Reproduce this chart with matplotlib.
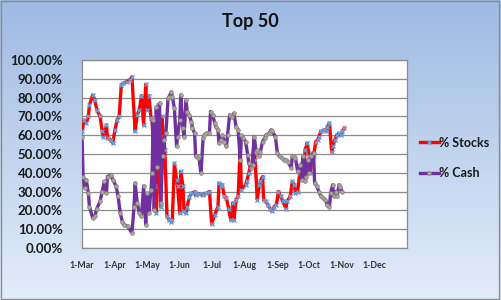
import numpy as np
import pandas as pd
import matplotlib
matplotlib.use("Agg")
import matplotlib.pyplot as plt
from matplotlib.lines import Line2D

YEAR = "2010"

stock_dates = ["03-01","03-03","03-05","03-07","03-08","03-11","03-13","03-15","03-18","03-20",
               "03-21","03-24","03-25","03-28","03-30","04-01","04-03","04-05","04-07","04-09",
               "04-12","04-15","04-17","04-20","04-22","04-24","04-26","04-28","04-30","05-01",
               "05-03","05-05","05-06","05-07","05-09","05-10","05-12","05-14","05-15","05-17",
               "05-18","05-20","05-22","05-24","05-25","05-27","05-29","05-30","06-01","06-02",
               "06-04","06-05","06-07","06-08","06-10","06-12","06-15","06-16","06-19","06-23",
               "06-26","06-29","07-01","07-04","07-07","07-08","07-10","07-11","07-13","07-15",
               "07-17","07-19","07-21","07-22","07-24","07-26","07-28","07-29","08-02","08-03",
               "08-05","08-07","08-08","08-10","08-11","08-13","08-15","08-16","08-18","08-19",
               "08-21","08-23","08-25","08-27","08-29","08-31","09-02","09-04","09-06","09-09",
               "09-10","09-13","09-15","09-17","09-18","09-20","09-22","09-24","09-26","09-27",
               "09-29","10-01","10-02","10-04","10-05","10-07","10-09","10-10","10-12","10-15",
               "10-17","10-18","10-20","10-22","10-23","10-25","10-27","10-29","10-31","11-01",
               "11-03"]
stock_pct = [62,68,66.5,70,76,81.4,78.7,73.4,70,62,
             59,65.4,58.5,57.5,56,62.8,68,70,86.7,87.6,
             88.5,89.4,91,62,71,73.5,81,65.5,87,73.5,
             81,69,67,56,33,18.6,76,22,70,59,
             52,17,15,14,15,45,36,33,18.6,40.7,
             33,19.5,18.6,22,27,29,30,28,28.7,28,
             29,30,13,17.7,22,34.5,33,33.6,27.4,26.5,
             21,15,24,15,25.7,27.4,54,31,33.6,35.4,
             39.8,45,44,57.5,47,25.7,33.6,35.4,38,25.7,
             24.8,23,21,19.5,22,23,30,27.4,24.8,21,
             24.8,27.4,35.4,33.6,29,30,39.8,45,40.7,52,
             55.8,48.7,39.8,50.4,48.7,56.6,57.5,59.3,62,62.8,
             62,64.6,66.4,51.3,54,57.5,60,61,60,62,
             63.7]

cash_dates = ["03-01","03-02","03-04","03-05","03-07","03-08","03-11","03-13","03-15","03-18",
              "03-20","03-22","03-24","03-25","03-28","03-30","04-02","04-04","04-06","04-08",
              "04-10","04-13","04-17","04-19","04-20","04-22","04-24","04-26","04-28","04-30",
              "05-01","05-03","05-05","05-06","05-07","05-08","05-10","05-11","05-13","05-14",
              "05-16","05-17","05-19","05-21","05-22","05-24","05-25","05-27","05-29","05-30",
              "06-01","06-02","06-04","06-05","06-07","06-08","06-10","06-12","06-13","06-15",
              "06-16","06-18","06-19","06-21","06-23","06-24","06-26","06-29","06-30","07-02",
              "07-04","07-05","07-07","07-08","07-10","07-11","07-13","07-15","07-16","07-18",
              "07-20","07-22","07-24","07-26","07-28","07-29","07-31","08-02","08-04","08-05",
              "08-07","08-09","08-10","08-12","08-13","08-15","08-16","08-18","08-20","08-21",
              "08-24","08-26","08-27","08-30","09-01","09-03","09-05","09-07","09-09","09-11",
              "09-14","09-15","09-17","09-18","09-20","09-22","09-24","09-25","09-27","09-28",
              "09-30","10-01","10-03","10-05","10-06","10-08","10-10","10-12","10-14","10-16",
              "10-18","10-20","10-21","10-23","10-24","10-26","10-27","10-29","10-30","11-01"]
cash_pct = [59.3,38,31.9,36.3,29,22,16,16.8,21,24.8,
            30,35.4,29,38,39,36.3,33,27.4,18.6,14,
            12.4,11.5,8,22,34.5,24,18.6,16.8,33,12.4,
            29,18.6,31,39.8,68,20,75,43,77,24,
            48.7,57.5,61,79.6,80.5,83,80.5,74.3,54,59.3,
            68,81.4,63.7,59.3,78.8,72.6,70.8,67,63.7,61,
            48.7,47.8,48.7,39.8,58.4,60,61,61,72.6,70.8,
            66.4,64.6,62.8,55.8,57.5,60,56.6,54,60,70.8,
            69.9,71.7,64.6,62.8,47,60,58.4,56.6,49.6,45,
            42.5,44,59.3,51.3,52,48.7,51.3,56.6,58.4,60,
            61,62.8,62,59.3,50.4,48.7,47.8,47,47,46,
            42.5,48.7,48.7,47.8,40.7,44,36.3,48.7,35.4,38,
            47,39.8,48.7,50.4,34.5,33,30,27.4,26.5,25.7,
            23,22,29,33.6,27.4,30,27.4,33.6,32.7,30]

tick_labels = ["1-Mar","1-Apr","1-May","1-Jun","1-Jul","1-Aug","1-Sep","1-Oct","1-Nov","1-Dec"]
y_ticks = list(range(0, 101, 10))

sd = pd.to_datetime([f"{YEAR}-{d}" for d in stock_dates])
cd = pd.to_datetime([f"{YEAR}-{d}" for d in cash_dates])

FONT = ["Lato", "DejaVu Sans"]

fig = plt.figure(figsize=(5.01, 3.0), dpi=100)
bg = fig.add_axes([0, 0, 1, 1], zorder=-10)
grad = np.linspace(0, 1, 256).reshape(-1, 1)
top = np.array([0.62, 0.73, 0.89])
bot = np.array([0.89, 0.93, 0.98])
img = top[None, None, :] * (1 - grad[:, :, None]) + bot[None, None, :] * grad[:, :, None]
bg.imshow(img, aspect="auto", extent=[0, 1, 0, 1], origin="upper")
bg.add_patch(plt.Rectangle((0.002, 0.003), 0.995, 0.994, fill=False, ec="#8c8c8c", lw=1))
bg.set_xlim(0, 1); bg.set_ylim(0, 1)
bg.axis("off")

ax = fig.add_axes([0.1637, 0.1733, 0.6487, 0.6267])
ax.set_facecolor("white")

stock_style = dict(color="#ff0000", lw=2.4, marker="x", ms=2.4, mec="#6a9ad6", mew=1.0)
cash_style = dict(color="#7030a0", lw=2.4, marker="o", ms=2.7, mfc="#aaa69c",
                  mec="#8a857c", mew=0.5)
ax.plot(sd, stock_pct, label="% Stocks", zorder=3, **stock_style)
ax.plot(cd, cash_pct, label="% Cash", zorder=4, **cash_style)

ax.set_ylim(0, 100)
ax.set_xlim(pd.Timestamp(f"{YEAR}-03-01"), pd.Timestamp("2011-01-01"))
ax.set_yticks(y_ticks)
ax.set_yticklabels([f"{v:.2f}%" for v in y_ticks], fontsize=9.5, fontweight="bold",
                   family=FONT, color="#1a1a1a")
month_ticks = pd.date_range(f"{YEAR}-03-01", periods=len(tick_labels), freq="MS")
ax.set_xticks(month_ticks)
ax.set_xticklabels(tick_labels, fontsize=6.3, fontweight="bold", family=FONT, color="#333333")
ax.tick_params(axis="both", length=0)
ax.tick_params(axis="y", pad=14)
ax.tick_params(axis="x", pad=9)
ax.grid(axis="y", color="#8c8c8c", lw=0.9)
ax.set_axisbelow(True)
for s in ax.spines.values():
    s.set_color("#8c8c8c")
    s.set_linewidth(0.9)

fig.text(0.5, 0.93, "Top 50", ha="center", va="center", fontsize=13, fontweight="bold",
         family=FONT, color="#111111")

handles = [Line2D([0], [0], **stock_style), Line2D([0], [0], **cash_style)]
fig.legend(handles, ["% Stocks", "% Cash"], loc="center left", bbox_to_anchor=(0.838, 0.473),
           frameon=False, handlelength=1.5, handletextpad=0.05, labelspacing=1.5,
           borderpad=0, borderaxespad=0,
           prop={"family": FONT, "size": 9, "weight": "bold"}, labelcolor="#1a1a1a")

fig.savefig("out.png", dpi=100)
